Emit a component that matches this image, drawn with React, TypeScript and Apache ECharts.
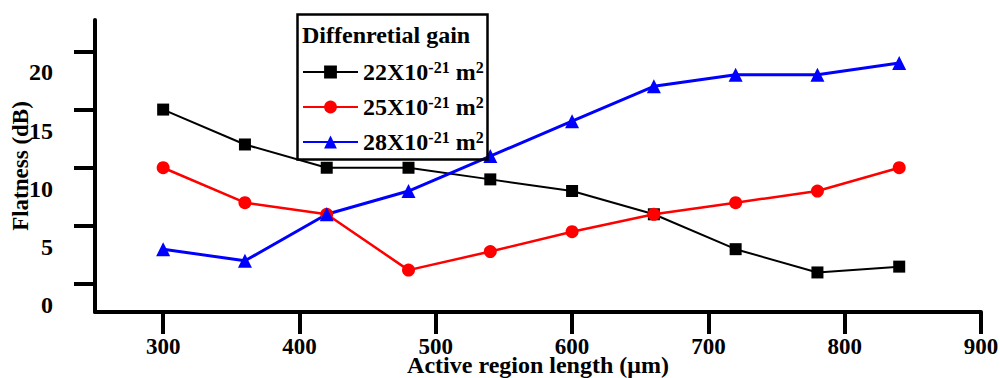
import React, { useEffect, useRef } from "react";
import * as echarts from "echarts";

const xValues = [300, 360, 420, 480, 540, 600, 660, 720, 780, 840];
const series22 = [15, 12, 10, 10, 9, 8, 6, 3, 1, 1.5];
const series25 = [10, 7, 6, 1.2, 2.8, 4.5, 6, 7, 8, 10];
const series28 = [3, 2, 6, 8, 11, 14, 17, 18, 18, 19];
const seriesNames = ["22X10-21 m2", "25X10-21 m2", "28X10-21 m2"];
const legendRich: Record<string, string> = {
  "22X10-21 m2": "22X10{sup|-21} m{sup|2}",
  "25X10-21 m2": "25X10{sup|-21} m{sup|2}",
  "28X10-21 m2": "28X10{sup|-21} m{sup|2}",
};
const xTicks = [300, 400, 500, 600, 700, 800, 900];
const yTicks = [0, 5, 10, 15, 20];
const legendTitle = "Diffenretial gain";

const FONT = "'Liberation Serif', 'Times New Roman', serif";

export default function App() {
  const ref = useRef<HTMLDivElement>(null);
  useEffect(() => {
    document.body.style.margin = "0";
    if (!ref.current) return;
    const chart = echarts.init(ref.current, undefined, { renderer: "svg" });
    const mk = (vals: number[]) => xValues.map((x, i) => [x, vals[i]]);
    chart.setOption({
      animation: false,
      backgroundColor: "#fff",
      grid: { left: 95, right: 19, top: 20, bottom: 66, containLabel: false, outerBoundsMode: "none" },
      xAxis: {
        type: "value",
        min: 250,
        max: 900,
        name: "Active region length (μm)",
        nameLocation: "middle",
        nameGap: 44,
        nameMoveOverlap: false,
        nameTextStyle: { fontFamily: FONT, fontWeight: "bold", fontSize: 24, color: "#000", lineHeight: 18 },
        axisLine: { show: true, onZero: false, lineStyle: { color: "#000", width: 4 } },
        axisTick: { show: true, length: 22, customValues: xTicks, lineStyle: { color: "#000", width: 4 } },
        axisLabel: {
          customValues: xTicks,
          margin: 25,
          showMinLabel: true,
          showMaxLabel: true,
          hideOverlap: false,
          fontFamily: FONT,
          fontWeight: "bold",
          fontSize: 23,
          lineHeight: 18,
          color: "#000",
        },
        splitLine: { show: false },
      },
      yAxis: {
        type: "value",
        min: -2.4,
        max: 22.7,
        name: "Flatness (dB)",
        nameLocation: "middle",
        nameGap: 63,
        nameMoveOverlap: false,
        nameTextStyle: { fontFamily: FONT, fontWeight: "bold", fontSize: 23, color: "#000" },
        axisLine: { show: true, onZero: false, lineStyle: { color: "#000", width: 4 } },
        axisTick: { show: true, length: 21, customValues: yTicks, lineStyle: { color: "#000", width: 4 } },
        axisLabel: {
          customValues: yTicks,
          margin: 42,
          showMinLabel: true,
          showMaxLabel: true,
          hideOverlap: false,
          fontFamily: FONT,
          fontWeight: "bold",
          fontSize: 24,
          color: "#000",
          verticalAlign: "top",
          padding: [9, 0, 0, 0],
        },
        splitLine: { show: false },
      },
      legend: {
        show: true,
        orient: "vertical",
        left: 295,
        top: 12,
        padding: [47, 6, 6, 7],
        itemWidth: 55,
        itemHeight: 16,
        itemGap: 9,
        data: seriesNames,
        formatter: (name: string) => legendRich[name],
        textStyle: {
          fontFamily: FONT,
          fontWeight: "bold",
          fontSize: 24,
          color: "#000",
          lineHeight: 26,
          rich: {
            sup: {
              fontFamily: FONT,
              fontWeight: "bold",
              fontSize: 16,
              color: "#000",
              verticalAlign: "top",
              lineHeight: 16,
            },
          },
        },
      },
      graphic: [
        {
          type: "rect",
          left: 295,
          top: 12,
          shape: { width: 190, height: 145 },
          style: { fill: "none", stroke: "#000", lineWidth: 2.5 },
          z: 10,
        },
        {
          type: "text",
          left: 302,
          top: 23,
          style: {
            text: legendTitle,
            fontFamily: FONT,
            fontWeight: "bold",
            fontSize: 24,
            fill: "#000",
          },
          z: 10,
        },
      ],
      series: [
        {
          name: seriesNames[0],
          type: "line",
          data: mk(series22),
          symbol: "rect",
          symbolSize: 12,
          itemStyle: { color: "#000" },
          lineStyle: { color: "#000", width: 2 },
        },
        {
          name: seriesNames[1],
          type: "line",
          data: mk(series25),
          symbol: "circle",
          symbolSize: 13,
          itemStyle: { color: "#ff0000" },
          lineStyle: { color: "#ff0000", width: 2.5 },
        },
        {
          name: seriesNames[2],
          type: "line",
          data: mk(series28),
          symbol: "triangle",
          symbolSize: 14,
          itemStyle: { color: "#0000ff" },
          lineStyle: { color: "#0000ff", width: 3 },
        },
      ],
    });
    return () => chart.dispose();
  }, []);
  return <div ref={ref} style={{ width: 1000, height: 378 }} />;
}
